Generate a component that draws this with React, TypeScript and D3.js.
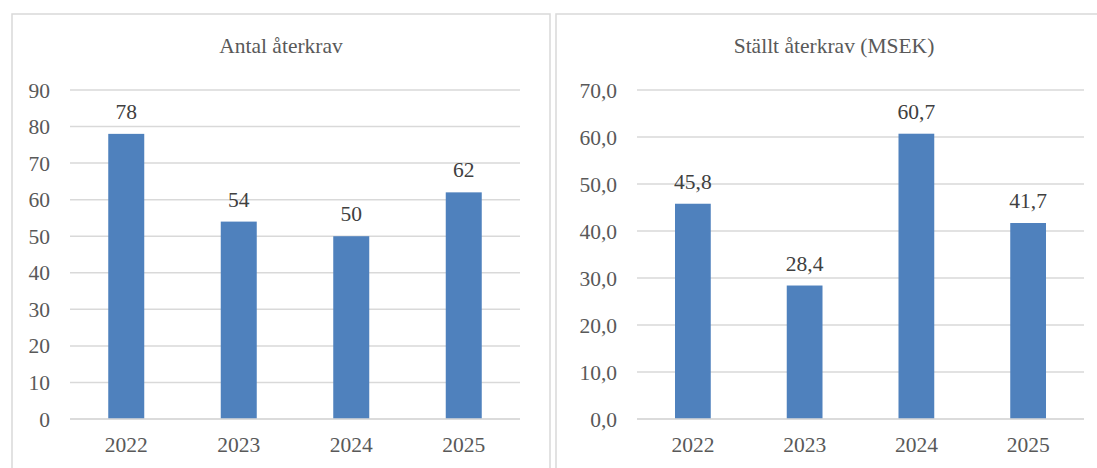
import * as d3 from "d3";
import { useEffect, useRef } from "react";

const years = ["2022", "2023", "2024", "2025"];
const antal = [78, 54, 50, 62];
const stallt = [45.8, 28.4, 60.7, 41.7];
const antalTicks = [0, 10, 20, 30, 40, 50, 60, 70, 80, 90];
const stalltTicks = [0, 10, 20, 30, 40, 50, 60, 70];

const W = 1097;
const H = 468;
const FONT = "Liberation Serif, Times New Roman, serif";
const BAR = "#4f81bd";
const GRID = "#d9d9d9";
const TEXT = "#595959";

interface PanelCfg {
  left: number;
  width: number;
  title: string;
  values: number[];
  ticks: number[];
  plotX: [number, number];
  fmt: (v: number) => string;
}

const App = () => {
  const svgRef = useRef<SVGSVGElement | null>(null);

  useEffect(() => {
    if (!svgRef.current) return;
    const svg = d3.select(svgRef.current);
    svg.selectAll("*").remove();

    const comma = (v: number) => v.toFixed(1).replace(".", ",");

    const panels: PanelCfg[] = [
      {
        left: 12,
        width: 538,
        title: "Antal återkrav",
        values: antal,
        ticks: antalTicks,
        plotX: [70, 520],
        fmt: (v) => String(v),
      },
      {
        left: 556,
        width: 556,
        title: "Ställt återkrav (MSEK)",
        values: stallt,
        ticks: stalltTicks,
        plotX: [637, 1084],
        fmt: comma,
      },
    ];

    const yTop = 90;
    const yBottom = 419;

    panels.forEach((p) => {
      const g = svg.append("g").style("font-family", FONT);

      // panel border
      g.append("rect")
        .attr("x", p.left)
        .attr("y", 14)
        .attr("width", p.width)
        .attr("height", H + 20)
        .attr("fill", "#fff")
        .attr("stroke", GRID)
        .attr("stroke-width", 1.5);

      g.append("text")
        .attr("x", p.left + p.width / 2)
        .attr("y", 53)
        .attr("text-anchor", "middle")
        .attr("font-size", 21.5)
        .attr("fill", TEXT)
        .text(p.title);

      const x = d3.scaleBand<string>().domain(years).range(p.plotX).paddingInner(0.68).paddingOuter(0.34);
      const y = d3
        .scaleLinear()
        .domain([0, d3.max(p.ticks) ?? 0])
        .range([yBottom, yTop]);

      // gridlines
      g.selectAll(".grid")
        .data(p.ticks)
        .join("line")
        .attr("x1", p.plotX[0])
        .attr("x2", p.plotX[1])
        .attr("y1", (d) => y(d))
        .attr("y2", (d) => y(d))
        .attr("stroke", GRID)
        .attr("stroke-width", 1.5);

      // y tick labels
      g.selectAll(".ytick")
        .data(p.ticks)
        .join("text")
        .attr("x", p.plotX[0] - 20)
        .attr("y", (d) => y(d))
        .attr("dy", "0.35em")
        .attr("text-anchor", "end")
        .attr("font-size", 21.5)
        .attr("fill", TEXT)
        .text((d) => p.fmt(d));

      // bars
      g.selectAll(".bar")
        .data(p.values)
        .join("rect")
        .attr("x", (_, i) => x(years[i]) ?? 0)
        .attr("y", (d) => y(d))
        .attr("width", x.bandwidth())
        .attr("height", (d) => yBottom - y(d))
        .attr("fill", BAR);

      // baseline on top of bars
      g.append("line")
        .attr("x1", p.plotX[0])
        .attr("x2", p.plotX[1])
        .attr("y1", yBottom)
        .attr("y2", yBottom)
        .attr("stroke", GRID)
        .attr("stroke-width", 1.5);

      // data labels
      g.selectAll(".lbl")
        .data(p.values)
        .join("text")
        .attr("x", (_, i) => (x(years[i]) ?? 0) + x.bandwidth() / 2)
        .attr("y", (d) => y(d) - 15)
        .attr("text-anchor", "middle")
        .attr("font-size", 21.5)
        .attr("fill", "#404040")
        .text((d) => p.fmt(d));

      // x labels
      g.selectAll(".xl")
        .data(years)
        .join("text")
        .attr("x", (d) => (x(d) ?? 0) + x.bandwidth() / 2)
        .attr("y", 452)
        .attr("text-anchor", "middle")
        .attr("font-size", 21.5)
        .attr("fill", TEXT)
        .text((d) => d);
    });
  }, []);

  return (
    <svg
      ref={svgRef}
      width={W}
      height={H}
      style={{ position: "absolute", left: 0, top: 0, background: "#fff" }}
    ></svg>
  );
};

export default App;
